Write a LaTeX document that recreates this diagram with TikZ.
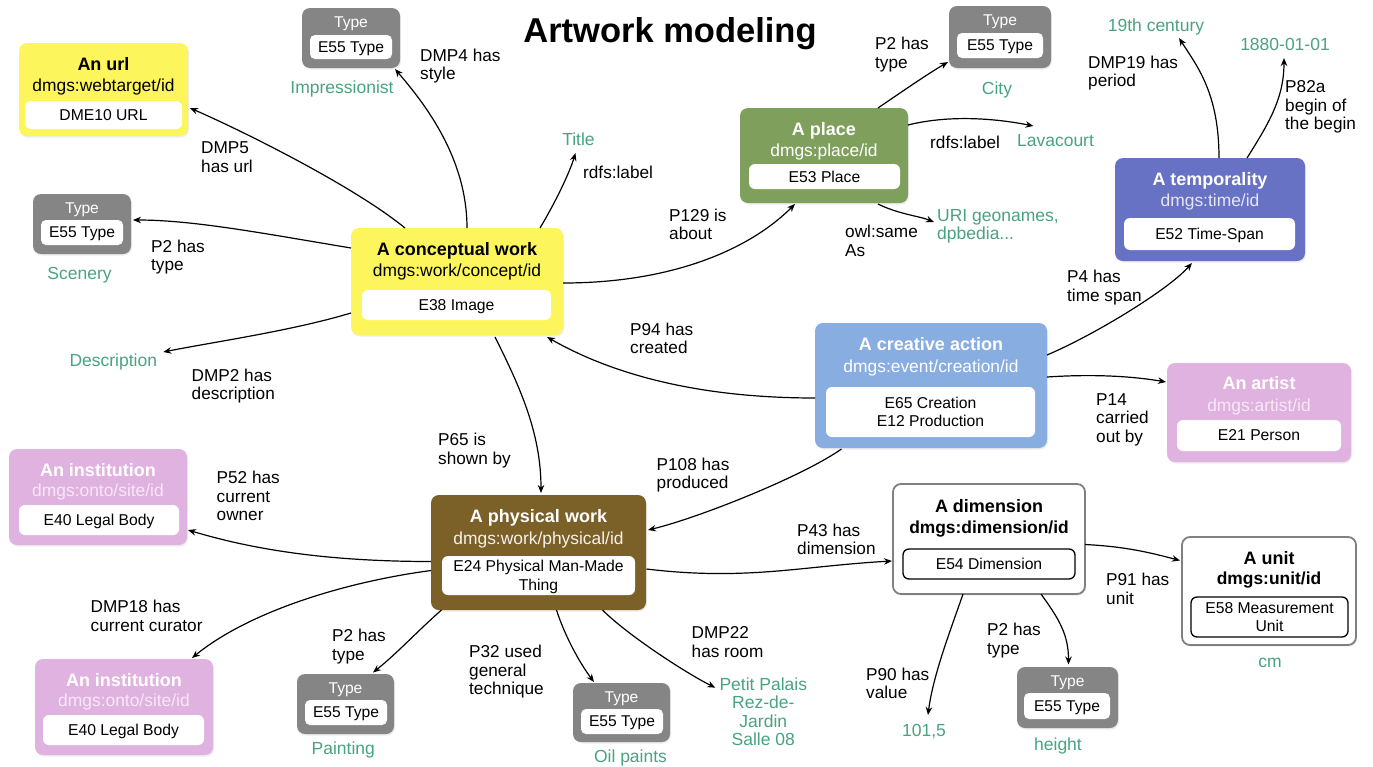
\documentclass[tikz,border=0pt]{standalone}
\usepackage{fontspec}
\setmainfont{Liberation Sans}
\usetikzlibrary{arrows.meta,calc,shadows}
\definecolor{cyel}{RGB}{253,245,92}
\definecolor{cgray}{RGB}{133,133,133}
\definecolor{cplace}{RGB}{127,160,92}
\definecolor{ctime}{RGB}{104,114,196}
\definecolor{cevent}{RGB}{136,173,224}
\definecolor{cpink}{RGB}{224,178,224}
\definecolor{cbrown}{RGB}{123,96,39}
\definecolor{litgreen}{RGB}{72,163,128}
\definecolor{pinksub}{RGB}{248,232,248}
\definecolor{timesub}{RGB}{228,230,248}

\begin{document}
\begin{tikzpicture}[x=1pt,y=-1pt,
	ent/.style={rounded corners=8pt, inner sep=0pt, drop shadow={opacity=0.15,shadow xshift=1pt,shadow yshift=-1.5pt}},
	entin/.style={fill=white, rounded corners=6pt, inner sep=0pt, text depth=0pt, align=center, font=\fontsize{15.7}{18.5}\selectfont},
	enttl/.style={inner sep=0pt, text depth=0pt, font=\fontsize{18}{20}\selectfont\bfseries},
	entsub/.style={inner sep=0pt, text depth=0pt, font=\fontsize{17.4}{20}\selectfont},
	typettl/.style={inner sep=0pt, text depth=0pt, text=white, font=\fontsize{15.6}{18}\selectfont},
	typein/.style={fill=white, rounded corners=5pt, inner sep=0pt, text depth=0pt, font=\fontsize{15.6}{18}\selectfont},
	lbl/.style={anchor=west, align=left, inner sep=0pt, font=\fontsize{17.2}{18.5}\selectfont},
	lit/.style={text=litgreen, align=center, inner sep=0pt, text depth=0pt, font=\fontsize{17.5}{18.5}\selectfont},
	arr/.style={-{Stealth[length=8pt,width=6.5pt]}, line width=1.2pt}]
	\useasboundingbox (0,0) rectangle (1373,766);
	\node[inner sep=0pt, text depth=0pt, font=\fontsize{34.5}{36}\selectfont\bfseries] (head) at (670,30) {Artwork modeling};
	%%
	\node[ent, fill=cyel, minimum width=169pt, minimum height=93pt] (url) at (103.5,89.5) {};
	\node[enttl] (urlT) at (103.5,64) {An url};
	\node[entsub] (urlS) at (103.5,85) {dmgs:webtarget/id};
	\node[entin, minimum width=157pt, minimum height=28pt] (urlI) at (103.5,115) {DME10 URL};
	%%
	\node[ent, fill=cyel, minimum width=212pt, minimum height=107pt] (concept) at (457,281.5) {};
	\node[enttl] (conceptT) at (457,249) {A conceptual work};
	\node[entsub] (conceptS) at (457,270) {dmgs:work/concept/id};
	\node[entin, minimum width=189pt, minimum height=30pt] (conceptI) at (456.5,305) {E38 Image};
	%%
	\node[ent, fill=cplace, minimum width=168pt, minimum height=95pt] (place) at (824,155.5) {};
	\node[enttl, text=white] (placeT) at (824,129) {A place};
	\node[entsub, text=white] (placeS) at (824,150) {dmgs:place/id};
	\node[entin, minimum width=151pt, minimum height=25pt] (placeI) at (824.5,176.5) {E53 Place};
	%%
	\node[ent, fill=ctime, minimum width=190pt, minimum height=103pt] (time) at (1210,209.5) {};
	\node[enttl, text=white] (timeT) at (1210,179) {A temporality};
	\node[entsub, text=timesub] (timeS) at (1210,200) {dmgs:time/id};
	\node[entin, minimum width=171pt, minimum height=32pt] (timeI) at (1209.5,234) {E52 Time-Span};
	%%
	\node[ent, fill=cevent, minimum width=232pt, minimum height=125pt] (event) at (931,385.5) {};
	\node[enttl, text=white] (eventT) at (931,344) {A creative action};
	\node[entsub, text=white] (eventS) at (931,366) {dmgs:event/creation/id};
	\node[entin, minimum width=209pt, minimum height=50pt] (eventI) at (930.5,412) {E65 Creation\\E12 Production};
	%%
	\node[ent, fill=cpink, minimum width=184pt, minimum height=99pt] (artist) at (1259,412.5) {};
	\node[enttl, text=white] (artistT) at (1259,383) {An artist};
	\node[entsub, text=pinksub] (artistS) at (1259,405) {dmgs:artist/id};
	\node[entin, minimum width=164pt, minimum height=31pt] (artistI) at (1259,435.5) {E21 Person};
	%%
	\node[ent, fill=cpink, minimum width=178pt, minimum height=96pt] (inst1) at (98,497) {};
	\node[enttl, text=white] (inst1T) at (98,470) {An institution};
	\node[entsub, text=pinksub] (inst1S) at (98,490) {dmgs:onto/site/id};
	\node[entin, minimum width=160pt, minimum height=30pt] (inst1I) at (99,520) {E40 Legal Body};
	%%
	\node[ent, fill=cpink, minimum width=178pt, minimum height=96pt] (inst2) at (124,707) {};
	\node[enttl, text=white] (inst2T) at (124,680) {An institution};
	\node[entsub, text=pinksub] (inst2S) at (124,700) {dmgs:onto/site/id};
	\node[entin, minimum width=161pt, minimum height=30pt] (inst2I) at (123.5,730) {E40 Legal Body};
	%%
	\node[ent, fill=cbrown, minimum width=215pt, minimum height=115pt] (phys) at (538.5,552.5) {};
	\node[enttl, text=white] (physT) at (538.5,516) {A physical work};
	\node[entsub, text=white!92!cbrown] (physS) at (538.5,538) {dmgs:work/physical/id};
	\node[entin, minimum width=193pt, minimum height=39pt] (physI) at (538.5,575.5) {E24 Physical Man-Made\\Thing};
	%%
	\node[ent, fill=white, draw=gray, line width=1.8pt, minimum width=192pt, minimum height=110pt] (dim) at (989,539) {};
	\node[enttl] (dimT) at (989,506) {A dimension};
	\node[entsub, font=\fontsize{17.4}{20}\selectfont\bfseries] (dimS) at (989,527) {dmgs:dimension/id};
	\node[entin, draw=black, line width=1.3pt, minimum width=172pt, minimum height=30pt] (dimI) at (989,564) {E54 Dimension};
	%%
	\node[ent, fill=white, draw=gray, line width=1.8pt, minimum width=174pt, minimum height=108pt] (unit) at (1269,591) {};
	\node[enttl] (unitT) at (1269,558) {A unit};
	\node[entsub, font=\fontsize{17.4}{20}\selectfont\bfseries] (unitS) at (1269,578) {dmgs:unit/id};
	\node[entin, draw=black, line width=1.3pt, minimum width=157pt, minimum height=40pt] (unitI) at (1269.5,617) {E58 Measurement\\Unit};
	%%
	\node[ent, fill=cgray, minimum width=98pt, minimum height=60pt] (typeA) at (351,38) {};
	\node[typettl] (typeAT) at (351,22) {Type};
	\node[typein, minimum width=82pt, minimum height=24pt] (typeAI) at (351,47) {E55 Type};
	\node[ent, fill=cgray, minimum width=98pt, minimum height=60pt] (typeB) at (82,224) {};
	\node[typettl] (typeBT) at (82,208) {Type};
	\node[typein, minimum width=82pt, minimum height=25pt] (typeBI) at (82,232.5) {E55 Type};
	\node[ent, fill=cgray, minimum width=102pt, minimum height=62pt] (typeC) at (1000,37) {};
	\node[typettl] (typeCT) at (1000,20) {Type};
	\node[typein, minimum width=86pt, minimum height=25pt] (typeCI) at (1000,45.5) {E55 Type};
	\node[ent, fill=cgray, minimum width=97pt, minimum height=60pt] (typeD) at (345.5,704) {};
	\node[typettl] (typeDT) at (345.5,688) {Type};
	\node[typein, minimum width=82pt, minimum height=25pt] (typeDI) at (346,712.5) {E55 Type};
	\node[ent, fill=cgray, minimum width=97pt, minimum height=59pt] (typeE) at (621.5,712.5) {};
	\node[typettl] (typeET) at (621.5,697) {Type};
	\node[typein, minimum width=82pt, minimum height=25pt] (typeEI) at (622,721.5) {E55 Type};
	\node[ent, fill=cgray, minimum width=101pt, minimum height=61pt] (typeF) at (1067.5,697.5) {};
	\node[typettl] (typeFT) at (1067.5,681) {Type};
	\node[typein, minimum width=86pt, minimum height=26pt] (typeFI) at (1067,706) {E55 Type};
	%%
	\node[lit] (impr) at (342,87) {Impressionist};
	\node[lit] (scen) at (79.5,273) {Scenery};
	\node[lit] (ttl) at (578.5,139) {Title};
	\node[lit] (city) at (997,88) {City};
	\node[lit] (lava) at (1055.5,140) {Lavacourt};
	\node[lit, align=left] (uri) at (998,224.5) {URI geonames,\\dpbedia...};
	\node[lit] (cent) at (1156,25) {19th century};
	\node[lit] (begin) at (1285,44) {1880-01-01};
	\node[lit] (desc) at (113.3,360) {Description};
	\node[lit] (room) at (763.3,711.7) {Petit Palais\\Rez-de-\\Jardin\\Salle 08};
	\node[lit] (paint) at (343.3,748) {Painting};
	\node[lit] (oil) at (630.5,756) {Oil paints};
	\node[lit] (val) at (924,730) {101,5};
	\node[lit] (hgt) at (1058,744) {height};
	\node[lit] (cm) at (1270,663) {cm};
	%%
	\node[lbl] (l1) at (420,66) {DMP4 has\\style};
	\node[lbl] (l2) at (201,157) {DMP5\\has url};
	\node[lbl] (l3) at (151,257) {P2 has\\type};
	\node[lbl] (l4) at (583,172) {rdfs:label};
	\node[lbl] (l5) at (669,224.5) {P129 is\\about};
	\node[lbl] (l6) at (875,54.5) {P2 has\\type};
	\node[lbl] (l7) at (930,142) {rdfs:label};
	\node[lbl] (l8) at (845,241) {owl:same\\As};
	\node[lbl] (l9) at (1088,73) {DMP19 has\\period};
	\node[lbl] (l10) at (1285,107) {P82a\\begin of\\the begin};
	\node[lbl] (l11) at (1067,287.5) {P4 has\\time span};
	\node[lbl] (l12) at (630,338.5) {P94 has\\created};
	\node[lbl] (l13) at (191.5,386) {DMP2 has\\description};
	\node[lbl] (l14) at (1096,419.5) {P14\\carried\\out by};
	\node[lbl] (l15) at (438,450.5) {P65 is\\shown by};
	\node[lbl] (l16) at (656.5,475) {P108 has\\produced};
	\node[lbl] (l17) at (216.5,496) {P52 has\\current\\owner};
	\node[lbl] (l18) at (797,539.5) {P43 has\\dimension};
	\node[lbl] (l19) at (1106,589) {P91 has\\unit};
	\node[lbl] (l20) at (90.5,616) {DMP18 has\\current curator};
	\node[lbl] (l21) at (332,646.5) {P2 has\\type};
	\node[lbl] (l22) at (469,672) {P32 used\\general\\technique};
	\node[lbl] (l23) at (691.5,642) {DMP22\\has room};
	\node[lbl] (l24) at (866,683.5) {P90 has\\value};
	\node[lbl] (l25) at (987,640.5) {P2 has\\type};
	%%
	\draw[arr] ($(concept)+(-52,-53.5)$) .. controls +(-50,-41) and +(55,24) .. ($(url)+(86.5,18.5)$);
	\draw[arr] ($(concept)+(10,-53.5)$) .. controls +(0,-70) and +(30,35) .. ($(typeA)+(44,31)$);
	\draw[arr] ($(concept)+(-106,-33.5)$) .. controls +(-90,-15) and +(60,0) .. ($(typeB)+(51,-4)$);
	\draw[arr] ($(concept)+(83,-53.5)$) .. controls +(15,-25) and +(-6,20) .. ($(ttl)+(-3,14)$);
	\draw[arr] ($(concept)+(106,1.5)$) .. controls +(110,0) and +(-45,45) .. ($(place)+(-29,48.5)$);
	\draw[arr] ($(concept)+(-106,31.5)$) .. controls +(-60,18) and +(50,-10) .. ($(desc)+(50,-8)$);
	\draw[arr] ($(concept)+(38,55.5)$) .. controls +(25,50) and +(0,-60) .. ($(phys)+(2.5,-59.5)$);
	%%
	\draw[arr] ($(event)+(-116,12.5)$) .. controls +(-110,0) and +(70,40) .. ($(concept)+(90,55.5)$);
	\draw[arr] ($(event)+(116,-30.5)$) .. controls +(45,-19) and +(-25,28) .. ($(time)+(-18,53.5)$);
	\draw[arr] ($(event)+(116,-8.5)$) .. controls +(45,-3) and +(-35,-6) .. ($(artist)+(-93,-30.5)$);
	\draw[arr] ($(event)+(-89.5,63.5)$) .. controls +(-40,28) and +(50,-12) .. ($(phys)+(109.5,-22.5)$);
	%%
	\draw[arr] ($(place)+(54,-47.5)$) .. controls +(22,-15) and +(-22,13) .. ($(typeC)+(-52,25)$);
	\draw[arr] ($(place)+(84,-30.5)$) .. controls +(40,-10) and +(-40,-8) .. ($(lava)+(-22,-14)$);
	\draw[arr] ($(place)+(54,48.5)$) .. controls +(20,10) and +(-15,-6) .. ($(uri)+(-64,-2.5)$);
	%%
	\draw[arr] ($(time)+(9,-51.5)$) .. controls +(0,-65) and +(18,28) .. ($(cent)+(23,13)$);
	\draw[arr] ($(time)+(37,-51.5)$) .. controls +(22,-35) and +(0,40) .. ($(begin)+(-1,14)$);
	%%
	\draw[arr] ($(phys)+(-107.5,9)$) .. controls +(-110,0) and +(60,18) .. ($(inst1)+(90,33)$);
	\draw[arr] ($(phys)+(-107.5,18)$) .. controls +(-90,12) and +(55,-45) .. ($(inst2)+(68,-49)$);
	\draw[arr] ($(phys)+(-97,57.5)$) .. controls +(-25,22) and +(25,-20) .. ($(typeD)+(27.5,-31.5)$);
	\draw[arr] ($(phys)+(18,57.5)$) .. controls +(8,25) and +(-15,-20) .. ($(typeE)+(-27.5,-30.5)$);
	\draw[arr] ($(phys)+(64,57.5)$) .. controls +(25,25) and +(-30,-15) .. ($(room)+(-48,-24)$);
	\draw[arr] ($(phys)+(108,16.5)$) .. controls +(100,12) and +(-90,5) .. ($(dim)+(-97,22)$);
	%%
	\draw[arr] ($(dim)+(96,5.5)$) .. controls +(40,2) and +(-30,-8) .. ($(unit)+(-89,-30.5)$);
	\draw[arr] ($(dim)+(-26,55)$) .. controls +(-12,35) and +(5,-40) .. ($(val)+(4,-15)$);
	\draw[arr] ($(dim)+(52,55)$) .. controls +(18,25) and +(0,-30) .. ($(typeF)+(1,-33)$);
\end{tikzpicture}
\end{document}
